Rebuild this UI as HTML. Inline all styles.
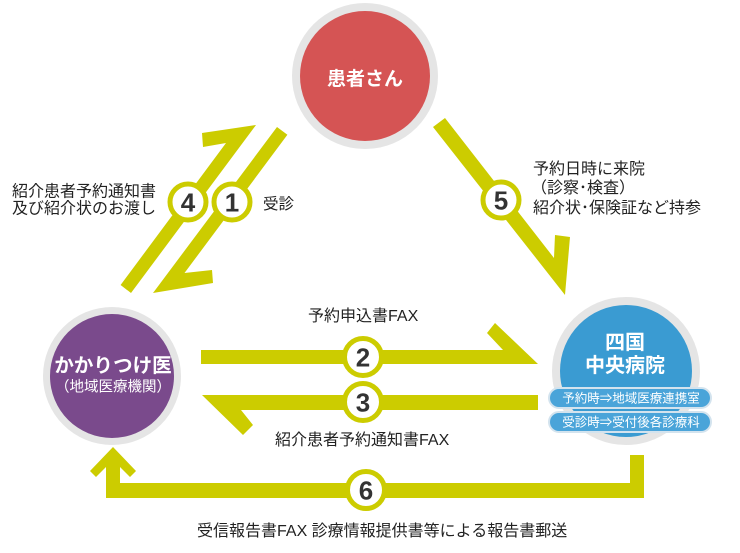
<!DOCTYPE html>
<html>
<head>
<meta charset="utf-8">
<style>
html,body{margin:0;padding:0;background:#fff;}
svg{display:block;}
text{font-family:"Liberation Sans","Noto Sans CJK JP",sans-serif;}
</style>
</head>
<body>
<svg width="740" height="553" viewBox="0 0 740 553" xmlns="http://www.w3.org/2000/svg">
  <!-- Arrows -->
  <g fill="#cccc00">
    <polygon points="256,125 131,293 120.6,285 226,143 203,147 202,133"/>
    <polygon points="277,127 287.4,134.8 184.5,273 212,270 213,283 153,293"/>
    <polygon points="433,127 445,118 554,258 555,235 570,237 565,295"/>
    <polygon points="201,350 503,350 487,333 495,323 538,364 201,364"/>
    <polygon points="538,395 202,395 243,435 253,425 241,410 538,410"/>
    <polygon points="113,447 136,471 130,477 120,467 120,483 630,483 630,455 644,455 644,498 106,498 106,467 96,477 90,471"/>
  </g>

  <!-- Number circles -->
  <g fill="#fff" stroke="#cccc00" stroke-width="5">
    <circle cx="188" cy="202" r="18"/>
    <circle cx="232" cy="202" r="18"/>
    <circle cx="501" cy="200" r="18"/>
    <circle cx="363" cy="357" r="18.5"/>
    <circle cx="363" cy="402" r="18.5"/>
    <circle cx="366" cy="490" r="18.5"/>
  </g>
  <g fill="#333" font-size="26" font-weight="bold" text-anchor="middle">
    <text x="188" y="211.5">4</text>
    <text x="232" y="211.5">1</text>
    <text x="501" y="209.5">5</text>
    <text x="363" y="366.5">2</text>
    <text x="363" y="411.5">3</text>
    <text x="366" y="499.5">6</text>
  </g>

  <!-- Patient circle -->
  <circle cx="365" cy="76" r="73" fill="#e5e5e5"/>
  <circle cx="365" cy="76" r="65" fill="#d55454"/>
  <text x="365" y="85" fill="#fff" font-size="19" font-weight="bold" text-anchor="middle">患者さん</text>

  <!-- Kakaritsuke circle -->
  <circle cx="112" cy="376" r="69" fill="#e5e5e5"/>
  <circle cx="112" cy="376" r="62" fill="#7a4a8c"/>
  <text x="113" y="372" fill="#fff" font-size="19.5" font-weight="bold" text-anchor="middle">かかりつけ医</text>
  <text x="113" y="391.5" fill="#fff" font-size="14.5" text-anchor="middle">（地域医療機関）</text>

  <!-- Hospital circle -->
  <circle cx="626" cy="371" r="74" fill="#e5e5e5"/>
  <circle cx="626" cy="371" r="66" fill="#3a9bd2"/>
  <text x="625" y="349" fill="#fff" font-size="20" font-weight="bold" text-anchor="middle">四国</text>
  <text x="625" y="372" fill="#fff" font-size="20" font-weight="bold" text-anchor="middle">中央病院</text>
  <rect x="549" y="388" width="162" height="20" rx="10" fill="#4aa4d9" stroke="#d3e3ee" stroke-width="2"/>
  <rect x="549" y="412" width="162" height="20" rx="10" fill="#4aa4d9" stroke="#d3e3ee" stroke-width="2"/>
  <text x="631" y="402.5" fill="#fff" font-size="12.5" text-anchor="middle">予約時⇒地域医療連携室</text>
  <text x="631" y="426.5" fill="#fff" font-size="12.5" text-anchor="middle">受診時⇒受付後各診療科</text>

  <!-- Labels -->
  <g fill="#222" font-size="16">
    <text x="12" y="196.5">紹介患者予約通知書</text>
    <text x="12" y="213.5">及び紹介状のお渡し</text>
    <text x="263" y="209" font-size="15.5">受診</text>
    <text x="533" y="174">予約日時に来院</text>
    <text x="531" y="193">（診察･検査）</text>
    <text x="533" y="213">紹介状･保険証など持参</text>
    <text x="308" y="321">予約申込書FAX</text>
    <text x="275" y="445">紹介患者予約通知書FAX</text>
    <text x="197" y="536">受信報告書FAX 診療情報提供書等による報告書郵送</text>
  </g>
</svg>
</body>
</html>
